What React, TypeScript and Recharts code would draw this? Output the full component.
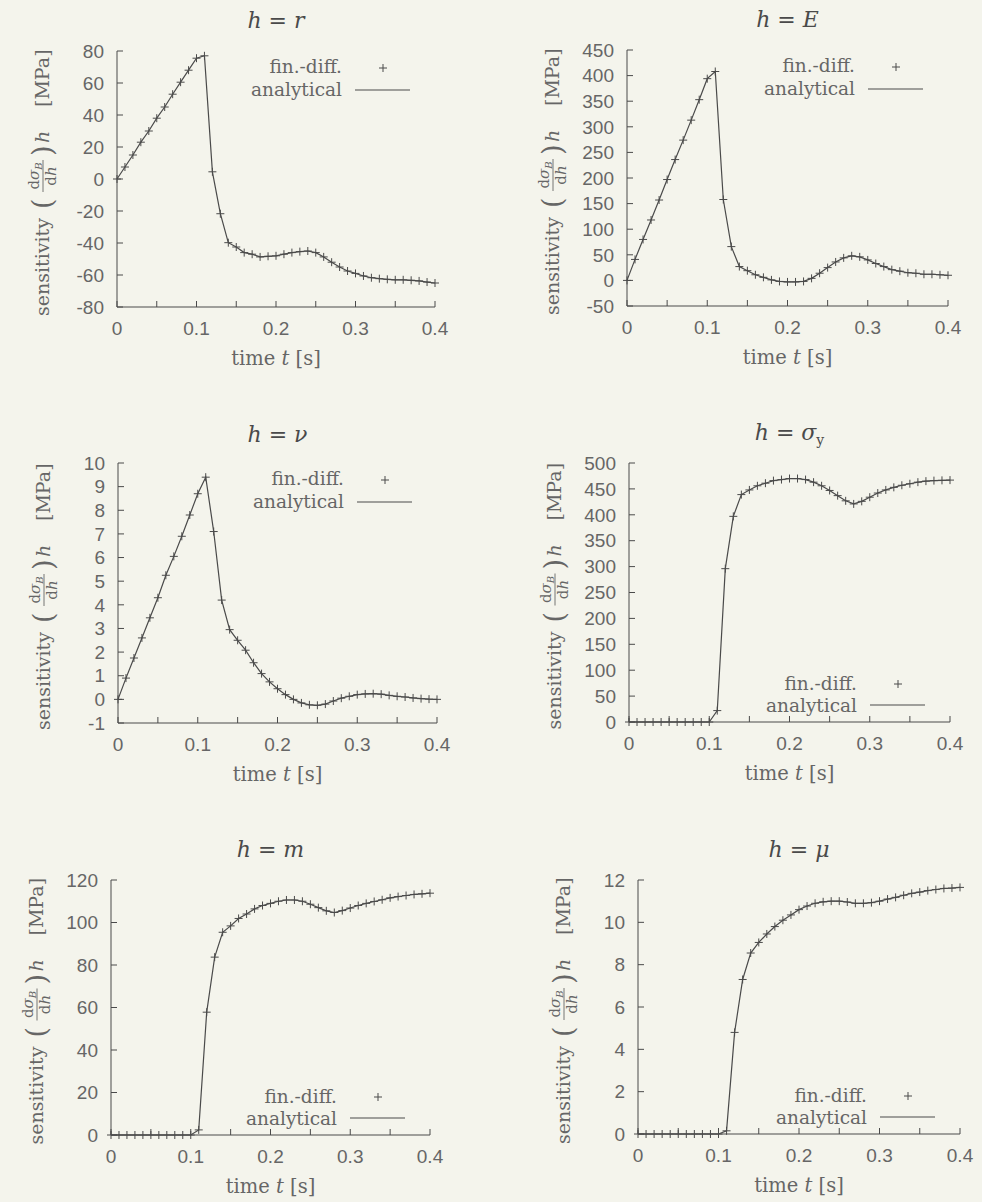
import React from 'react'
import { ComposedChart, Line, Scatter, XAxis, YAxis } from 'recharts'

// time grid of the finite-difference samples [s]
const times = [
  0, 0.01, 0.02, 0.03, 0.04, 0.05, 0.06, 0.07, 0.08, 0.09,
  0.1, 0.11, 0.12, 0.13, 0.14, 0.15, 0.16, 0.17, 0.18, 0.19,
  0.2, 0.21, 0.22, 0.23, 0.24, 0.25, 0.26, 0.27, 0.28, 0.29,
  0.3, 0.31, 0.32, 0.33, 0.34, 0.35, 0.36, 0.37, 0.38, 0.39, 0.4,
]
const timeTicks = [0, 0.05, 0.1, 0.15, 0.2, 0.25, 0.3, 0.35, 0.4]

// sensitivities [MPa]
const sensR = [
  0, 7.5, 15, 23, 30, 38, 45, 53, 60.5, 68,
  75.5, 77, 4.5, -21.7, -39.8, -42.5, -46, -47, -48.7, -48.3,
  -48, -47, -46, -45.4, -45, -46, -48.7, -52, -55, -57.5,
  -59, -60.6, -61.7, -62.3, -62.7, -63, -63, -63.3, -63.7, -64.4, -65,
]
const sensE = [
  0, 41, 80, 118, 157, 197, 236, 274, 313, 353,
  394, 408, 158, 66, 27, 19, 11, 6, 1, -2,
  -3, -3, -2, 4, 14, 25, 36, 44, 48, 46,
  40, 33, 27, 21, 18, 15, 14, 12, 12, 11, 10,
]
const sensNu = [
  0, 0.9, 1.75, 2.6, 3.45, 4.3, 5.25, 6.05, 6.9, 7.8,
  8.7, 9.4, 7.1, 4.2, 2.95, 2.5, 2.08, 1.55, 1.09, 0.74,
  0.45, 0.2, 0, -0.15, -0.23, -0.25, -0.2, -0.07, 0.05, 0.13,
  0.2, 0.23, 0.24, 0.22, 0.17, 0.13, 0.1, 0.06, 0.03, 0.01, 0,
]
const sensSigmaY = [
  0, 0, 0, 0, 0, 0, 0, 0, 0, 0,
  0, 22, 296, 397, 439, 448, 456, 461, 466, 468,
  470, 470, 468, 463, 456, 447, 437, 427, 421, 426,
  434, 442, 448, 453, 457, 460, 463, 465, 466, 466.5, 467,
]
const sensM = [
  0, 0, 0, 0, 0, 0, 0, 0, 0, 0,
  0, 2.4, 57.8, 83.7, 95.4, 98.4, 101.9, 104, 106.4, 108,
  109, 110, 110.6, 110.6, 110, 108.6, 107, 105.5, 104.7, 105.6,
  106.8, 108, 109, 109.9, 110.7, 111.6, 112.2, 112.7, 113.2, 113.5, 113.8,
]
const sensMu = [
  0, 0, 0, 0, 0, 0, 0, 0, 0, 0,
  0, 0.15, 4.8, 7.3, 8.55, 9.05, 9.45, 9.8, 10.1, 10.35,
  10.6, 10.77, 10.9, 10.97, 11.0, 11.0, 10.96, 10.9, 10.9, 10.93,
  11.0, 11.1, 11.18, 11.28, 11.37, 11.43, 11.5, 11.55, 11.6, 11.62, 11.65,
]

const ticksR = [-80, -60, -40, -20, 0, 20, 40, 60, 80]
const ticksE = [-50, 0, 50, 100, 150, 200, 250, 300, 350, 400, 450]
const ticksNu = [-1, 0, 1, 2, 3, 4, 5, 6, 7, 8, 9, 10]
const ticksSigmaY = [0, 50, 100, 150, 200, 250, 300, 350, 400, 450, 500]
const ticksM = [0, 20, 40, 60, 80, 100, 120]
const ticksMu = [0, 2, 4, 6, 8, 10, 12]

const SERIF = '"DejaVu Serif", serif'
const SANS = '"Liberation Sans", Arial, sans-serif'
const INK = '#4a4a4a'
const TEXT = '#666666'
const PAPER = '#f4f4ec'

interface Rect { x: number; y: number; w: number; h: number }

interface PanelConfig {
  symbol: string
  sub?: string
  values: number[]
  yTicks: number[]
  plot: Rect
  legendAt: 'top' | 'bottom'
  titleDy?: number
}

const panels: PanelConfig[] = [
  { symbol: 'r', values: sensR, yTicks: ticksR, plot: { x: 117, y: 51, w: 318, h: 256 }, legendAt: 'top' },
  { symbol: 'E', values: sensE, yTicks: ticksE, plot: { x: 627, y: 50, w: 321, h: 256 }, legendAt: 'top' },
  { symbol: 'ν', values: sensNu, yTicks: ticksNu, plot: { x: 118, y: 463, w: 319, h: 260 }, legendAt: 'top', titleDy: 2 },
  { symbol: 'σ', sub: 'y', values: sensSigmaY, yTicks: ticksSigmaY, plot: { x: 629, y: 463, w: 321, h: 259 }, legendAt: 'bottom' },
  { symbol: 'm', values: sensM, yTicks: ticksM, plot: { x: 111, y: 880, w: 319, h: 255 }, legendAt: 'bottom' },
  { symbol: 'μ', values: sensMu, yTicks: ticksMu, plot: { x: 638, y: 880, w: 322, h: 254 }, legendAt: 'bottom' },
]

const LEFT = 110
const TOP = 50
const RIGHT = 20
const BOTTOM = 80

const fmtTime = (v: number) => (Math.round(v * 100) % 10 === 0 ? String(v) : '')
const blank = () => ''

function PlusMarker(props: any) {
  const { cx, cy } = props
  if (cx == null || cy == null) return null
  return (
    <path
      d={`M${cx - 4},${cy}H${cx + 4}M${cx},${cy - 4}V${cy + 4}`}
      stroke={INK}
      strokeWidth={1}
      fill="none"
    />
  )
}

function YLabel(props: any) {
  const vb = props.viewBox
  if (!vb) return null
  const cx = vb.x + vb.width - 74
  const cy = vb.y + vb.height / 2
  return (
    <g transform={`translate(${cx},${cy}) rotate(-90)`} fill={TEXT} fontFamily={SERIF}>
      <text x={-137} y={6} fontSize={19}>sensitivity</text>
      <text x={-30} y={9} fontSize={27}>(</text>
      <text x={3} y={-4} fontSize={15} textAnchor="middle">
        d<tspan fontStyle="italic">σ</tspan>
        <tspan fontStyle="italic" fontSize={10} dy={3}>B</tspan>
      </text>
      <line x1={-13} x2={19} y1={0} y2={0} stroke={TEXT} strokeWidth={0.9} />
      <text x={3} y={13} fontSize={15} textAnchor="middle">
        d<tspan fontStyle="italic">h</tspan>
      </text>
      <text x={23} y={9} fontSize={27}>)</text>
      <text x={36} y={6} fontSize={19} fontStyle="italic">h</text>
      <text x={72} y={6} fontSize={19}>[MPa]</text>
    </g>
  )
}

function XLabel(props: any) {
  const vb = props.viewBox
  if (!vb) return null
  return (
    <text x={vb.x + vb.width / 2} y={vb.y + 58} textAnchor="middle" fontFamily={SERIF} fontSize={19.5} fill={TEXT}>
      time <tspan fontStyle="italic">t</tspan> [s]
    </text>
  )
}

function Overlay({ cfg, width, height }: { cfg: PanelConfig; width: number; height: number }) {
  const { plot } = cfg
  const left = LEFT
  const right = LEFT + plot.w
  const top = TOP
  const bottom = TOP + plot.h
  const rows = cfg.legendAt === 'top'
    ? { t1: top + 22, t2: top + 45, plus: top + 17, line: top + 39 }
    : { t1: bottom - 32, t2: bottom - 10, plus: bottom - 38, line: bottom - 17 }
  const textX = right - 93
  const px = right - 52
  return (
    <svg width={width} height={height} style={{ position: 'absolute', left: 0, top: 0, pointerEvents: 'none' }}>
      <text
        x={(left + right) / 2}
        y={top - 23 + (cfg.titleDy ?? 0)}
        textAnchor="middle"
        fontFamily={SERIF}
        fontSize={22}
        fill={INK}
      >
        <tspan fontStyle="italic">h</tspan>
        <tspan>{'\u00a0=\u00a0'}</tspan>
        <tspan fontStyle="italic">{cfg.symbol}</tspan>
        {cfg.sub && <tspan fontSize={14} dy={5}>{cfg.sub}</tspan>}
      </text>
      <g fontFamily={SERIF} fontSize={18.5} fill={TEXT} textAnchor="end">
        <text x={textX} y={rows.t1}>fin.-diff.</text>
        <text x={textX} y={rows.t2}>analytical</text>
      </g>
      <path d={`M${px - 4},${rows.plus}H${px + 4}M${px},${rows.plus - 4}V${rows.plus + 4}`} stroke={INK} strokeWidth={1} />
      <line x1={right - 80} x2={right - 25} y1={rows.line} y2={rows.line} stroke={INK} strokeWidth={1.2} />
    </svg>
  )
}

function Panel({ cfg }: { cfg: PanelConfig }) {
  const { plot } = cfg
  const width = plot.w + LEFT + RIGHT
  const height = plot.h + TOP + BOTTOM
  const data = times.map((t, i) => ({ t, v: cfg.values[i] }))
  const yDomain = [cfg.yTicks[0], cfg.yTicks[cfg.yTicks.length - 1]]
  const tickStyle = { fill: TEXT, fontSize: 19, fontFamily: SANS }

  return (
    <div style={{ position: 'absolute', left: plot.x - LEFT, top: plot.y - TOP, width, height }}>
      <ComposedChart width={width} height={height} data={data} margin={{ top: TOP, right: RIGHT, bottom: 0, left: 0 }}>
        <XAxis
          xAxisId="bottom"
          dataKey="t"
          type="number"
          domain={[0, 0.4]}
          ticks={timeTicks}
          interval={0}
          height={BOTTOM}
          tickSize={-6}
          tickMargin={21}
          tickFormatter={fmtTime}
          stroke={INK}
          tick={tickStyle}
          label={(p: any) => <XLabel {...p} />}
        />
        <XAxis
          xAxisId="top"
          orientation="top"
          dataKey="t"
          type="number"
          domain={[0, 0.4]}
          ticks={timeTicks}
          interval={0}
          height={0}
          tickSize={-6}
          tickFormatter={blank}
          stroke={INK}
        />
        <YAxis
          yAxisId="left"
          type="number"
          domain={yDomain}
          ticks={cfg.yTicks}
          interval={0}
          width={LEFT}
          tickSize={-6}
          tickMargin={19}
          stroke={INK}
          tick={tickStyle}
          label={(p: any) => <YLabel {...p} />}
        />
        <YAxis
          yAxisId="right"
          orientation="right"
          type="number"
          domain={yDomain}
          ticks={cfg.yTicks}
          interval={0}
          width={0}
          tickSize={-6}
          tickFormatter={blank}
          stroke={INK}
        />
        <Line
          xAxisId="bottom"
          yAxisId="left"
          type="linear"
          dataKey="v"
          name="analytical"
          stroke={INK}
          strokeWidth={1.2}
          dot={false}
          activeDot={false}
          isAnimationActive={false}
        />
        <Scatter
          xAxisId="bottom"
          yAxisId="left"
          data={data}
          dataKey="v"
          name="fin.-diff."
          shape={PlusMarker}
          isAnimationActive={false}
        />
      </ComposedChart>
      <Overlay cfg={cfg} width={width} height={height} />
    </div>
  )
}

export default function App() {
  return (
    <div
      style={{
        position: 'absolute',
        left: 0,
        top: 0,
        width: 982,
        height: 1202,
        overflow: 'hidden',
        background: PAPER,
      }}
    >
      {panels.map((cfg) => (
        <Panel key={cfg.symbol} cfg={cfg} />
      ))}
    </div>
  )
}
